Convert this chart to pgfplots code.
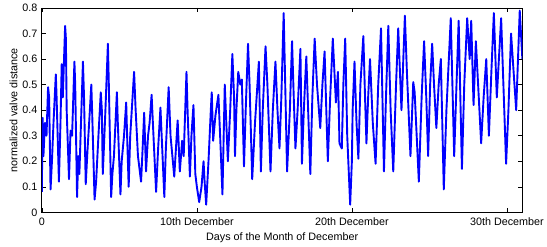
\documentclass[border=0pt]{standalone}
\usepackage{pgfplots}
\pgfplotsset{compat=1.18}
\usepackage{fontspec}
\setmainfont{Liberation Sans}
\pgfplotstableread{
d v
0.00 0.08
0.03 0.30
0.05 0.37
0.10 0.22
0.20 0.35
0.30 0.30
0.40 0.49
0.47 0.45
0.56 0.09
0.65 0.20
0.75 0.35
0.90 0.54
0.95 0.45
1.10 0.12
1.20 0.35
1.28 0.58
1.35 0.45
1.50 0.73
1.55 0.68
1.60 0.40
1.75 0.13
1.85 0.32
1.95 0.30
2.10 0.59
2.15 0.50
2.27 0.06
2.35 0.22
2.42 0.15
2.55 0.40
2.65 0.59
2.72 0.45
2.83 0.11
2.95 0.25
3.05 0.35
3.19 0.50
3.25 0.38
3.40 0.05
3.50 0.12
3.65 0.30
3.80 0.47
3.87 0.40
3.93 0.15
4.00 0.25
4.10 0.40
4.26 0.66
4.32 0.50
4.47 0.06
4.55 0.15
4.65 0.22
4.84 0.47
4.90 0.35
5.07 0.07
5.15 0.20
5.30 0.30
5.44 0.43
5.50 0.30
5.60 0.10
5.70 0.30
5.85 0.45
5.95 0.55
6.05 0.40
6.20 0.22
6.40 0.12
6.50 0.25
6.60 0.39
6.72 0.16
6.85 0.30
6.95 0.35
7.08 0.46
7.20 0.30
7.37 0.08
7.50 0.25
7.65 0.41
7.90 0.06
8.00 0.25
8.18 0.49
8.30 0.30
8.54 0.14
8.65 0.25
8.76 0.36
8.90 0.16
9.05 0.28
9.15 0.22
9.33 0.55
9.40 0.40
9.55 0.14
9.65 0.30
9.78 0.42
9.90 0.15
10.00 0.10
10.15 0.04
10.30 0.10
10.43 0.20
10.50 0.12
10.60 0.03
10.75 0.20
10.90 0.40
10.96 0.47
11.05 0.28
11.20 0.38
11.39 0.46
11.50 0.30
11.65 0.07
11.80 0.50
11.90 0.35
12.00 0.20
12.15 0.40
12.29 0.62
12.40 0.45
12.46 0.22
12.55 0.40
12.67 0.55
12.80 0.50
12.90 0.52
13.04 0.18
13.15 0.40
13.30 0.66
13.40 0.50
13.57 0.13
13.75 0.35
14.00 0.59
14.13 0.16
14.25 0.40
14.43 0.65
14.55 0.50
14.75 0.16
14.90 0.40
15.07 0.59
15.20 0.40
15.33 0.25
15.45 0.45
15.60 0.78
15.70 0.50
15.82 0.16
16.00 0.40
16.14 0.67
16.25 0.45
16.36 0.25
16.50 0.40
16.68 0.64
16.78 0.19
16.90 0.40
17.06 0.61
17.15 0.45
17.32 0.15
17.45 0.45
17.60 0.68
17.75 0.50
17.96 0.33
18.10 0.50
18.24 0.63
18.35 0.40
18.45 0.20
18.60 0.45
18.77 0.68
18.97 0.43
19.10 0.55
19.20 0.27
19.35 0.25
19.45 0.50
19.57 0.68
19.70 0.30
19.89 0.03
20.00 0.20
20.05 0.40
20.17 0.59
20.30 0.35
20.42 0.21
20.55 0.50
20.74 0.69
20.85 0.45
20.94 0.27
21.05 0.45
21.17 0.60
21.35 0.35
21.53 0.19
21.70 0.50
21.88 0.72
22.07 0.16
22.20 0.45
22.35 0.73
22.50 0.40
22.67 0.16
22.85 0.50
22.99 0.72
23.20 0.40
23.42 0.77
23.55 0.55
23.78 0.22
23.96 0.51
24.05 0.47
24.32 0.12
24.50 0.45
24.66 0.67
24.80 0.45
24.92 0.22
25.05 0.50
25.18 0.66
25.30 0.50
25.45 0.33
25.60 0.50
25.74 0.60
25.93 0.09
26.10 0.40
26.38 0.76
26.60 0.22
26.75 0.50
26.89 0.75
27.10 0.17
27.25 0.50
27.44 0.76
27.60 0.60
27.70 0.75
27.85 0.42
28.00 0.67
28.34 0.27
28.50 0.45
28.67 0.60
28.84 0.30
29.00 0.55
29.16 0.78
29.35 0.45
29.63 0.76
29.95 0.19
30.10 0.40
30.27 0.70
30.60 0.40
30.83 0.79
31.00 0.60
}\valve
\begin{document}
\begin{tikzpicture}
\begin{axis}[
  name=ax,
  scale only axis,
  width=482pt, height=205pt,
  xmin=0, xmax=31, ymin=0, ymax=0.8,
  xtick={0,10,20,30},
  xticklabels={0,10th December,20th December,30th December},
  ytick={0,0.1,...,0.8},
  yticklabel style={/pgf/number format/fixed,/pgf/number format/precision=1, xshift=-1pt},
  xticklabel style={yshift=-2pt},
  /pgf/number format/assume math mode=true,
  tick align=inside,
  major tick length=4pt,
  tick style={black, line width=0.5pt},
  axis line style={black, line width=0.8pt},
  ticklabel style={font=\fontsize{10.8}{12}\selectfont},
  label style={font=\fontsize{10.8}{12}\selectfont},
  xlabel={Days of the Month of December},
  ylabel={normalized valve distance},
  xlabel style={yshift=0pt},
  ylabel style={yshift=-2pt},
  clip=true,
]
\addplot[color={rgb,255:red,0;green,0;blue,255}, line width=1.9pt, line join=round] table[x=d,y=v] {\valve};
\end{axis}
\path (ax.south west) ++(-42pt,-34pt);
\path (ax.north east) ++(23pt,8pt);
\end{tikzpicture}
\end{document}
